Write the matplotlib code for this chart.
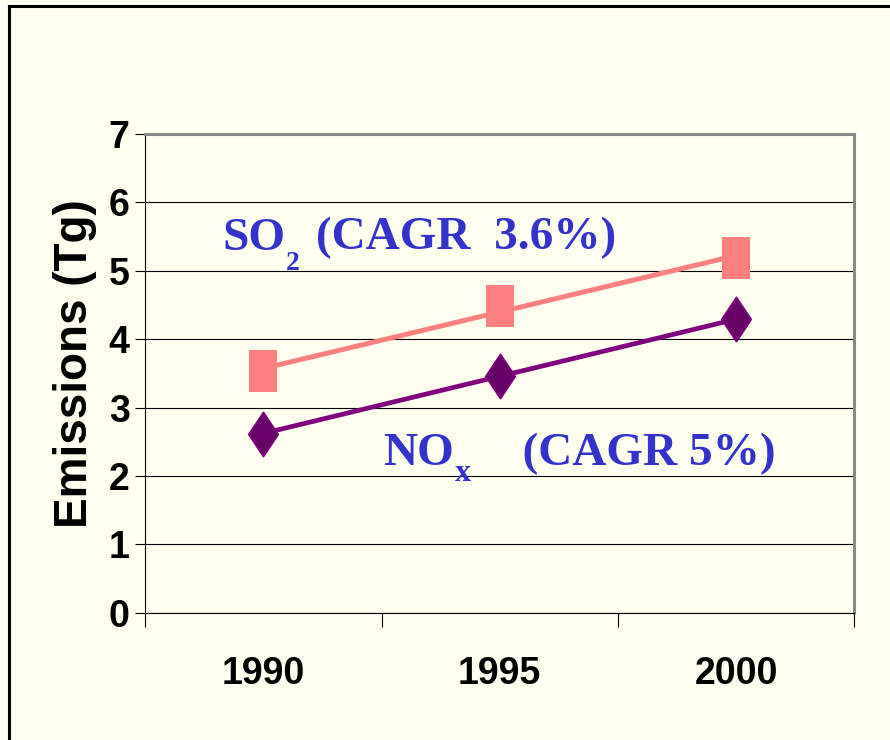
import matplotlib.pyplot as plt
import numpy as np
from matplotlib.lines import Line2D
from matplotlib.path import Path

years = ["1990", "1995", "2000"]
so2 = [3.53, 4.48, 5.18]
nox = [2.62, 3.46, 4.29]
yticks = [0, 1, 2, 3, 4, 5, 6, 7]

plt.rcParams["font.family"] = ["Liberation Sans", "DejaVu Sans"]

bg = "#FFFFF0"
blue = "#3333CC"
fig = plt.figure(figsize=(8.9, 7.4), dpi=100, facecolor=bg)
ax = fig.add_axes([0.163, 0.172, 0.797, 0.647], facecolor=bg)

# tall markers, like the stretched slide
rect = Path([(-2, -3), (2, -3), (2, 3), (-2, 3), (-2, -3)], closed=True)
diamond = Path([(0, -3), (2, 0), (0, 3), (-2, 0), (0, -3)], closed=True)

x = np.arange(len(years))
xs = np.array([0, 2])

# linear trend lines under the markers
k, b = np.polyfit(x, so2, 1)
ax.plot(xs, k * xs + b, color="#FF8080", lw=3.6, zorder=3, solid_capstyle="butt")
k, b = np.polyfit(x, nox, 1)
ax.plot(xs, k * xs + b, color="#800080", lw=3.4, zorder=3, solid_capstyle="butt")

ax.plot(x, so2, ls="none", marker=rect, markersize=30, color="#FF8080",
        markeredgewidth=0, zorder=4)
ax.plot(x, nox, ls="none", marker=diamond, markersize=32, markerfacecolor="#660066",
        markeredgecolor="#800080", markeredgewidth=1.2, zorder=4)


def chem_label(x0, y0, main, sub, rest, drop, sub_size, gap):
    # formula + subscript + trailing text, chained left to right on one baseline
    kw = dict(color=blue, family="Liberation Serif", weight="bold", va="baseline",
              ha="left", zorder=5)
    t1 = ax.text(x0, y0, main, fontsize=34, **kw)
    t2 = ax.annotate(sub, xy=(1, y0), xycoords=(t1, "data"), xytext=(0.5, -drop),
                     textcoords="offset points", fontsize=sub_size, **kw)
    ax.annotate(rest, xy=(1, y0), xycoords=(t2, "data"), xytext=(gap, 0),
                textcoords="offset points", fontsize=34, **kw)


chem_label(-0.174, 5.31, "SO", "2", " (CAGR  3.6%)", 14.4, 20, 3)
chem_label(0.507, 2.16, "NO", "x", "    (CAGR 5%)", 11.2, 23, 3)

ax.set_xlim(-0.5, 2.5)
ax.set_ylim(0, 7)
ax.set_yticks(yticks)
ax.set_yticklabels([str(t) for t in yticks])
ax.yaxis.grid(True, color="black", lw=0.8)
ax.set_axisbelow(True)

ax.set_xticks([-0.5, 0.5, 1.5, 2.5])
ax.set_xticklabels([])
ax.set_xticks(x, minor=True)
ax.set_xticklabels(years, minor=True)
ax.tick_params(axis="x", which="major", direction="out", length=10, width=0.8)
ax.tick_params(axis="x", which="minor", length=0, pad=31, labelsize=27)
ax.tick_params(axis="y", direction="out", length=7.2, width=0.8, pad=4, labelsize=27)
for lab in ax.get_xticklabels(minor=True) + ax.get_yticklabels():
    lab.set_fontweight("bold")

ax.set_ylabel("Emissions (Tg)", fontsize=33, fontweight="bold")
ax.yaxis.set_label_coords(-0.068, 0.52)

for s in ["left", "bottom"]:
    ax.spines[s].set_color("black")
    ax.spines[s].set_linewidth(0.8)
for s in ["top", "right"]:
    ax.spines[s].set_color("#888888")
    ax.spines[s].set_linewidth(2.2)

# slide frame on the left and top edges
fig.add_artist(Line2D([9 / 890, 9 / 890], [0, 1 - 6 / 740], transform=fig.transFigure,
                      color="black", lw=2.2))
fig.add_artist(Line2D([9 / 890, 1], [1 - 6 / 740, 1 - 6 / 740], transform=fig.transFigure,
                      color="black", lw=2.2))

fig.savefig("out.png", dpi=100, facecolor=bg)
